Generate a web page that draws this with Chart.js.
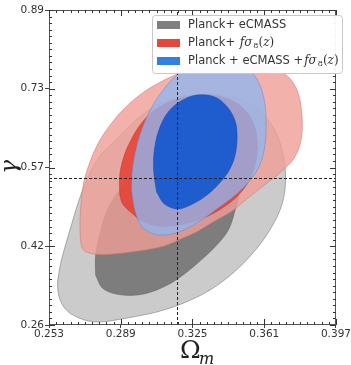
<!DOCTYPE html>
<html lang="en">
<head>
    <meta charset="UTF-8">
    <title>Omega_m vs gamma contours</title>
    <script src="https://cdn.jsdelivr.net/npm/chart.js"></script>
    <style>
        body { margin: 0; background: #fff; overflow: hidden; }
        canvas { display: block; }
    </style>
</head>
<body>
    <canvas id="contours" width="351" height="365"></canvas>

    <script>
        // axes
        const omTicks = [0.253, 0.289, 0.325, 0.361, 0.397];
        const omTickLabels = ['0.253', '0.289', '0.325', '0.361', '0.397'];
        const gammaTicks = [0.26, 0.4175, 0.575, 0.7325, 0.89];
        const gammaTickLabels = ['0.26', '0.42', '0.57', '0.73', '0.89'];

        // dashed reference lines
        const refOm = 0.3175;
        const refGamma = 0.553;

        const seriesNames = ['Planck+ eCMASS', 'Planck+ ', 'Planck + eCMASS +'];
        const seriesHasFs8 = [false, true, true];

        // contour outlines (Omega_m, gamma)
        const grayOuterOm = [0.2924, 0.2778, 0.2681, 0.2608, 0.2574, 0.2584, 0.2613, 0.2647, 0.2681, 0.2720, 0.2778, 0.2866, 0.2973, 0.3080, 0.3192, 0.3313, 0.3449, 0.3566, 0.3654, 0.3702, 0.3717, 0.3698, 0.3644, 0.3566, 0.3459, 0.3338, 0.3206, 0.3070];
        const grayOuterGamma = [0.274, 0.266, 0.274, 0.294, 0.330, 0.374, 0.420, 0.466, 0.510, 0.550, 0.594, 0.630, 0.672, 0.702, 0.718, 0.722, 0.716, 0.696, 0.656, 0.606, 0.550, 0.500, 0.454, 0.410, 0.366, 0.330, 0.304, 0.286];

        const grayInnerOm = [0.2764, 0.2764, 0.2788, 0.2827, 0.2905, 0.2997, 0.3119, 0.3265, 0.3386, 0.3459, 0.3484, 0.3464, 0.3430, 0.3362, 0.3265, 0.3167, 0.3070, 0.2973, 0.2866, 0.2798];
        const grayInnerGamma = [0.360, 0.400, 0.446, 0.494, 0.540, 0.580, 0.606, 0.614, 0.600, 0.566, 0.526, 0.490, 0.450, 0.416, 0.380, 0.350, 0.330, 0.320, 0.322, 0.334];

        const redOuterOm = [0.3017, 0.2856, 0.2754, 0.2700, 0.2686, 0.2690, 0.2705, 0.2739, 0.2783, 0.2837, 0.2905, 0.2992, 0.3099, 0.3216, 0.3352, 0.3498, 0.3634, 0.3732, 0.3780, 0.3800, 0.3795, 0.3761, 0.3693, 0.3605, 0.3522, 0.3449, 0.3362, 0.3279, 0.3192, 0.3109];
        const redOuterGamma = [0.410, 0.402, 0.402, 0.412, 0.450, 0.500, 0.546, 0.590, 0.628, 0.660, 0.692, 0.722, 0.748, 0.768, 0.782, 0.786, 0.778, 0.756, 0.724, 0.676, 0.630, 0.594, 0.566, 0.538, 0.512, 0.488, 0.468, 0.448, 0.432, 0.418];

        const redInnerOm = [0.2885, 0.2885, 0.2905, 0.2939, 0.2987, 0.3060, 0.3158, 0.3279, 0.3401, 0.3498, 0.3557, 0.3576, 0.3557, 0.3503, 0.3415, 0.3304, 0.3182, 0.3080, 0.3005, 0.2945, 0.2900];
        const redInnerGamma = [0.520, 0.560, 0.596, 0.628, 0.660, 0.690, 0.710, 0.720, 0.716, 0.696, 0.662, 0.618, 0.570, 0.530, 0.498, 0.474, 0.460, 0.458, 0.466, 0.484, 0.502];

        const blueOuterOm = [0.2944, 0.2948, 0.2968, 0.3002, 0.3055, 0.3119, 0.3192, 0.3289, 0.3401, 0.3508, 0.3576, 0.3610, 0.3620, 0.3610, 0.3581, 0.3532, 0.3459, 0.3372, 0.3279, 0.3182, 0.3080, 0.3002, 0.2963];
        const blueOuterGamma = [0.530, 0.570, 0.614, 0.658, 0.702, 0.738, 0.766, 0.782, 0.786, 0.778, 0.750, 0.710, 0.660, 0.610, 0.574, 0.546, 0.518, 0.492, 0.466, 0.446, 0.440, 0.454, 0.486];

        const blueInnerOm = [0.3070, 0.3055, 0.3060, 0.3085, 0.3128, 0.3192, 0.3274, 0.3362, 0.3425, 0.3464, 0.3474, 0.3464, 0.3435, 0.3386, 0.3323, 0.3250, 0.3177, 0.3109];
        const blueInnerGamma = [0.526, 0.570, 0.614, 0.654, 0.686, 0.708, 0.720, 0.716, 0.696, 0.668, 0.636, 0.600, 0.570, 0.544, 0.520, 0.502, 0.492, 0.502];

        const swatchColors = ['#7f7f7f', '#e5483b', '#2f80e4'];

        // closed outline -> point list (first point repeated to close it)
        function loop(xs, ys) {
            const pts = xs.map((v, i) => ({x: v, y: ys[i]}));
            pts.push(pts[0]);
            return pts;
        }

        function contour(xs, ys, fillColor, edgeColor) {
            return {
                data: loop(xs, ys),
                fill: 'shape',
                backgroundColor: fillColor,
                borderColor: edgeColor,
                borderWidth: 0.8,
                tension: 0.35,
                pointRadius: 0
            };
        }

        function refLine(pts) {
            return {
                data: pts,
                fill: false,
                borderColor: '#222',
                borderWidth: 1,
                borderDash: [3, 2],
                tension: 0,
                pointRadius: 0
            };
        }

        // italic f sigma_8 (z)
        function drawFs8(ctx, x, y) {
            const parts = [
                ['italic 12px "DejaVu Serif"', 'fσ', 0],
                ['8px "DejaVu Serif"', '8', 3],
                ['12px "DejaVu Serif"', '(', 0],
                ['italic 12px "DejaVu Serif"', 'z', 0],
                ['12px "DejaVu Serif"', ')', 0]
            ];
            parts.forEach(p => {
                ctx.font = p[0];
                ctx.fillText(p[1], x, y + p[2]);
                x += ctx.measureText(p[1]).width + (p[1] === 'fσ' ? 1 : 0);
            });
        }

        const decor = {
            id: 'decor',
            afterDatasetsDraw(chart) {
                const {ctx, chartArea: a, scales: {x, y}} = chart;
                ctx.save();

                // frame
                ctx.strokeStyle = '#555';
                ctx.lineWidth = 1;
                ctx.strokeRect(a.left + 0.5, a.top + 0.5, a.right - a.left - 1, a.bottom - a.top - 1);

                // inner ticks, minor and major, on all four sides
                ctx.strokeStyle = '#333';
                ctx.beginPath();
                const omMinor = 10, gammaMinor = 12;
                for (let i = 0; i < omTicks.length; i++) {
                    const px = Math.round(x.getPixelForValue(omTicks[i])) + 0.5;
                    ctx.moveTo(px, a.bottom); ctx.lineTo(px, a.bottom - 6);
                    ctx.moveTo(px, a.top); ctx.lineTo(px, a.top + 6);
                    if (i === omTicks.length - 1) break;
                    const step = (omTicks[i + 1] - omTicks[i]) / omMinor;
                    for (let k = 1; k < omMinor; k++) {
                        const mx = Math.round(x.getPixelForValue(omTicks[i] + k * step)) + 0.5;
                        ctx.moveTo(mx, a.bottom); ctx.lineTo(mx, a.bottom - 3);
                        ctx.moveTo(mx, a.top); ctx.lineTo(mx, a.top + 3);
                    }
                }
                for (let i = 0; i < gammaTicks.length; i++) {
                    const py = Math.round(y.getPixelForValue(gammaTicks[i])) + 0.5;
                    ctx.moveTo(a.left, py); ctx.lineTo(a.left + 6, py);
                    ctx.moveTo(a.right, py); ctx.lineTo(a.right - 6, py);
                    if (i === gammaTicks.length - 1) break;
                    const step = (gammaTicks[i + 1] - gammaTicks[i]) / gammaMinor;
                    for (let k = 1; k < gammaMinor; k++) {
                        const my = Math.round(y.getPixelForValue(gammaTicks[i] + k * step)) + 0.5;
                        ctx.moveTo(a.left, my); ctx.lineTo(a.left + 3, my);
                        ctx.moveTo(a.right, my); ctx.lineTo(a.right - 3, my);
                    }
                }
                ctx.stroke();

                // legend box
                const lx = 152, ly = 15, lw = 190, lh = 58;
                ctx.beginPath();
                ctx.roundRect(lx + 0.5, ly + 0.5, lw, lh, 3);
                ctx.fillStyle = 'rgba(255,255,255,0.95)';
                ctx.fill();
                ctx.strokeStyle = '#c8c8c8';
                ctx.stroke();
                seriesNames.forEach((name, i) => {
                    const cy = ly + 10 + i * 18;
                    ctx.fillStyle = swatchColors[i];
                    ctx.fillRect(lx + 5, cy - 4, 23, 8);
                    ctx.fillStyle = '#333';
                    ctx.font = '11.5px "DejaVu Sans"';
                    ctx.textBaseline = 'middle';
                    ctx.textAlign = 'left';
                    ctx.fillText(name, lx + 36, cy);
                    if (seriesHasFs8[i]) {
                        drawFs8(ctx, lx + 36 + ctx.measureText(name).width + 1, cy);
                    }
                });

                // axis titles
                ctx.fillStyle = '#222';
                ctx.textBaseline = 'alphabetic';
                ctx.font = '25px "DejaVu Serif"';
                ctx.fillText('Ω', 180, 358);
                ctx.font = 'italic 16px "DejaVu Serif"';
                ctx.fillText('m', 199, 364);

                ctx.translate(16, 167);
                ctx.rotate(-Math.PI / 2);
                ctx.textAlign = 'center';
                ctx.font = 'italic 23px "DejaVu Serif"';
                ctx.fillText('γ', 0, 0);

                ctx.restore();
            }
        };

        const tickFont = {family: 'DejaVu Sans', size: 10.5};

        new Chart(document.getElementById('contours'), {
            type: 'line',
            data: {
                datasets: [
                    refLine([{x: omTicks[0], y: refGamma}, {x: omTicks[omTicks.length - 1], y: refGamma}]),
                    refLine([{x: refOm, y: gammaTicks[0]}, {x: refOm, y: gammaTicks[gammaTicks.length - 1]}]),
                    contour(blueInnerOm, blueInnerGamma, 'rgba(20,88,206,0.92)', 'rgba(20,70,170,0.6)'),
                    contour(blueOuterOm, blueOuterGamma, 'rgba(145,182,240,0.78)', 'rgba(90,130,210,0.6)'),
                    contour(redInnerOm, redInnerGamma, 'rgba(228,62,48,0.85)', 'rgba(190,50,40,0.6)'),
                    contour(redOuterOm, redOuterGamma, 'rgba(240,158,150,0.8)', 'rgba(200,110,100,0.6)'),
                    contour(grayInnerOm, grayInnerGamma, 'rgba(112,112,112,0.85)', 'rgba(90,90,90,0.6)'),
                    contour(grayOuterOm, grayOuterGamma, 'rgba(185,185,185,0.75)', 'rgba(130,130,130,0.8)')
                ]
            },
            options: {
                responsive: false,
                animation: false,
                events: [],
                layout: { padding: {top: 10, right: 6, left: 0, bottom: 0}, autoPadding: false },
                plugins: { legend: {display: false}, tooltip: {enabled: false} },
                scales: {
                    x: {
                        type: 'linear',
                        min: omTicks[0],
                        max: omTicks[omTicks.length - 1],
                        afterBuildTicks: s => { s.ticks = omTicks.map(v => ({value: v})); },
                        afterFit: s => { s.height = 40; },
                        ticks: {
                            font: tickFont, color: '#333', padding: 0,
                            maxRotation: 0, autoSkip: false,
                            callback: (v, i) => omTickLabels[i]
                        },
                        grid: {drawOnChartArea: false, tickLength: 3, color: '#444'},
                        border: {display: false}
                    },
                    y: {
                        type: 'linear',
                        min: gammaTicks[0],
                        max: gammaTicks[gammaTicks.length - 1],
                        afterBuildTicks: s => { s.ticks = gammaTicks.map(v => ({value: v})); },
                        afterFit: s => { s.width = 49; },
                        ticks: {
                            font: tickFont, color: '#333', padding: 1,
                            autoSkip: false,
                            callback: (v, i) => gammaTickLabels[i]
                        },
                        grid: {drawOnChartArea: false, tickLength: 4, color: '#444'},
                        border: {display: false}
                    }
                }
            },
            plugins: [decor]
        });
    </script>
</body>
</html>
